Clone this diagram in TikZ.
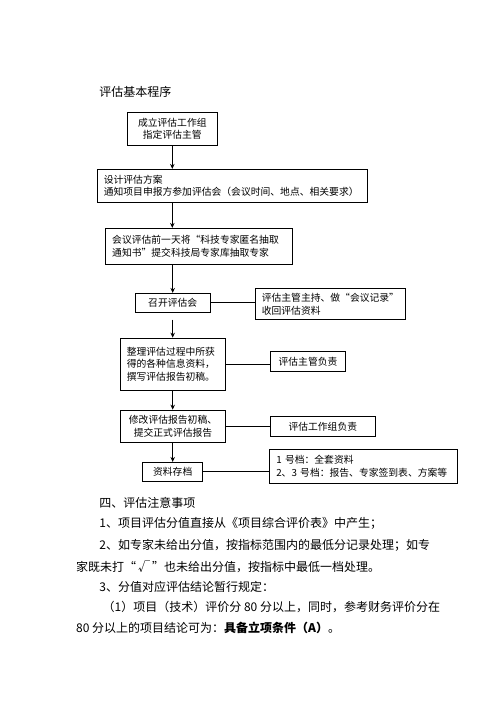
\documentclass[tikz,border=0pt]{standalone}
\usepackage{fontspec}
\setmainfont{Noto Sans CJK SC}
\usetikzlibrary{arrows.meta}

\begin{document}
\begin{tikzpicture}[x=1pt, y=-1pt, line width=0.8pt,
    box/.style={draw, rectangle, inner sep=0pt, align=center,
        font=\fontsize{9.8}{12.5}\selectfont},
    leftbox/.style={box, align=left, inner xsep=6.5pt},
    flow/.style={-{Stealth[length=5pt, width=4.5pt]}},
    body/.style={anchor=base west, inner sep=0pt,
        font=\fontsize{12}{14}\selectfont}]
\useasboundingbox (0,0) rectangle (496,702);

% Title
\node[body] (title) at (99, 96.6) {评估基本程序};

% Main column of steps
\node[box, minimum width=90pt, minimum height=33pt] (b1) at (172.3, 128.8)
    {成立评估工作组\\指定评估主管};
\node[leftbox, text width=257pt, minimum height=33pt] (b2) at (232.3, 185.8)
    {设计评估方案\\通知项目申报方参加评估会（会议时间、地点、相关要求）};
\node[leftbox, text width=173.6pt, minimum height=36pt] (b3) at (199, 246.3)
    {会议评估前一天将“科技专家匿名抽取\\通知书”提交科技局专家库抽取专家};
\node[box, minimum width=74.7pt, minimum height=19pt] (b4) at (172.7, 302.8)
    {召开评估会};
\node[leftbox, text width=92.4pt, minimum height=52.3pt] (b5) at (173, 364.2)
    {整理评估过程中所获\\得的各种信息资料，\\撰写评估报告初稿。};
\node[box, minimum width=105.4pt, minimum height=32.3pt] (b6) at (173, 426.2)
    {修改评估报告初稿、\\提交正式评估报告};
\node[box, minimum width=60pt, minimum height=18.7pt] (b7) at (172.7, 471.7)
    {资料存档};

% Side notes
\node[leftbox, text width=137pt, minimum height=30.6pt] (s4) at (330.3, 304)
    {评估主管主持、做“会议记录”\\收回评估资料};
\node[box, minimum width=75.4pt, minimum height=20pt] (s5) at (308, 361.3)
    {评估主管负责};
\node[box, minimum width=105pt, minimum height=19.3pt] (s6) at (322.8, 426.3)
    {评估工作组负责};
\node[leftbox, text width=175pt, minimum height=34pt] (s7) at (363.8, 466.3)
    {1 号档：全套资料\\2、3 号档：报告、专家签到表、方案等};

% Arrows down the column
\draw[flow] (b1.south) -- (b1.south |- b2.north);
\draw[flow] (b2.south -| b1) -- (b3.north -| b1);
\draw[flow] (b3.south -| b4) -- (b4.north);
\draw[flow] (b4.south |- s4.south) -- (b5.north -| b4);
\draw[flow] (b5.south -| b4) -- (b6.north -| b4);
\draw[flow] (b6.south -| b7) -- (b7.north);

% Links to side notes
\foreach \m/\s in {b4/s4, b5/s5, b6/s6, b7/s7} {
    \draw (\m.east) -- (\m.east -| \s.west);
}

% Notes below the chart
\node[body] (n0) at (99, 507.9) {四、评估注意事项};
\node[body] (n1) at (99, 527.9) {1、项目评估分值直接从《项目综合评价表》中产生；};
\node[body] (n2) at (99, 549.6) {2、如专家未给出分值，按指标范围内的最低分记录处理；如专};
\node[body] (n3) at (75.7, 571.3) {家既未打“\,√\,”也未给出分值，按指标中最低一档处理。};
\node[body] (n4) at (99, 591.3) {3、分值对应评估结论暂行规定：};
\node[body] (n5) at (102.3, 611.9) {（1）项目（技术）评价分 80 分以上，同时，参考财务评价分在};
\node[body] (n6) at (75.7, 632.9) {80 分以上的项目结论可为：\textbf{具备立项条件（A）}。};
\end{tikzpicture}
\end{document}
